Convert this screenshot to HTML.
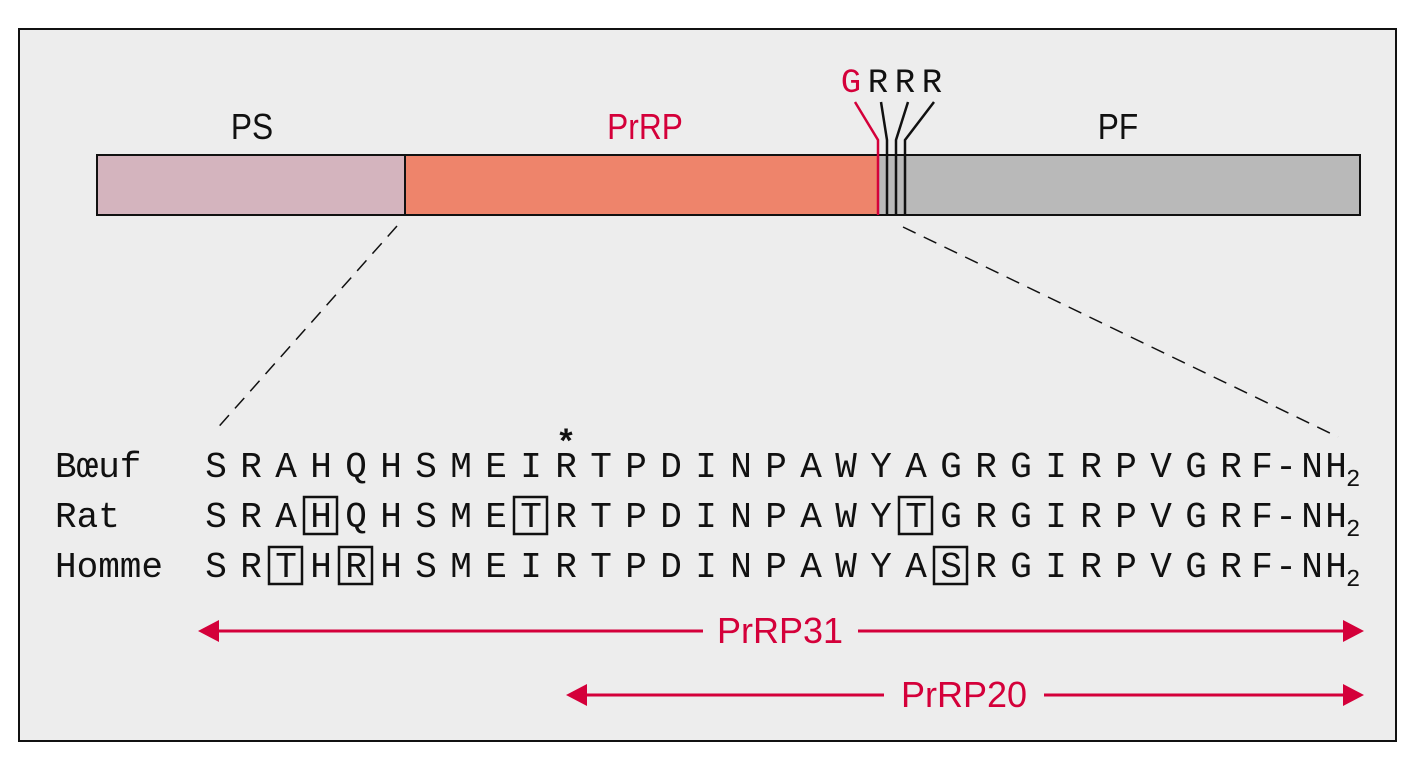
<!DOCTYPE html>
<html><head><meta charset="utf-8"><style>
html,body{margin:0;padding:0;background:#fff;}
svg{display:block;}
.m{font-family:"Liberation Mono",monospace;font-size:36px;fill:#111;}
.s{font-family:"Liberation Sans",sans-serif;font-size:36px;}
</style></head><body>
<svg width="1417" height="776" viewBox="0 0 1417 776" xmlns="http://www.w3.org/2000/svg">
<rect x="0" y="0" width="1417" height="776" fill="#fff"/>
<rect x="19" y="29" width="1377" height="712" fill="#ededed" stroke="#111" stroke-width="2"/>
<rect x="97" y="155" width="308" height="60" fill="#d4b4be" stroke="#111" stroke-width="2"/>
<rect x="405" y="155" width="473" height="60" fill="#ee846b" stroke="#111" stroke-width="2"/>
<rect x="878" y="155" width="482" height="60" fill="#b9b9b9" stroke="#111" stroke-width="2"/>
<text class="s" x="252" y="139" text-anchor="middle" fill="#111" transform="translate(252 0) scale(0.88 1) translate(-252 0)">PS</text>
<text class="s" x="645" y="139" text-anchor="middle" fill="#d4003a" transform="translate(645 0) scale(0.88 1) translate(-645 0)">PrRP</text>
<text class="s" x="1118" y="139" text-anchor="middle" fill="#111" transform="translate(1118 0) scale(0.88 1) translate(-1118 0)">PF</text>
<text x="851" y="92" font-family="Liberation Mono,monospace" font-size="34" text-anchor="middle" fill="#d4003a">G</text>
<text x="878" y="92" font-family="Liberation Mono,monospace" font-size="34" text-anchor="middle" fill="#111">R</text>
<text x="905" y="92" font-family="Liberation Mono,monospace" font-size="34" text-anchor="middle" fill="#111">R</text>
<text x="932" y="92" font-family="Liberation Mono,monospace" font-size="34" text-anchor="middle" fill="#111">R</text>
<g fill="none" stroke-width="2.5">
<polyline points="855,102 878,140 878,215" stroke="#d4003a"/>
<polyline points="881,102 887,140 887,215" stroke="#111"/>
<polyline points="908,102 896,140 896,215" stroke="#111"/>
<polyline points="934,102 905,140 905,215" stroke="#111"/>
</g>
<line x1="397" y1="226" x2="214" y2="432" stroke="#111" stroke-width="1.5" stroke-dasharray="14,9"/>
<line x1="903" y1="227" x2="1338" y2="437" stroke="#111" stroke-width="1.5" stroke-dasharray="14,9"/>
<text class="m" x="55" y="477">Bœuf</text>
<text class="m" x="55" y="527">Rat</text>
<text class="m" x="55" y="577">Homme</text>
<text x="566" y="452" font-family="Liberation Sans,sans-serif" font-size="34" font-weight="bold" text-anchor="middle" fill="#111">*</text>
<g class="m" text-anchor="middle">
<text y="477"><tspan x="216">S</tspan><tspan x="251">R</tspan><tspan x="286">A</tspan><tspan x="321">H</tspan><tspan x="356">Q</tspan><tspan x="391">H</tspan><tspan x="426">S</tspan><tspan x="461">M</tspan><tspan x="496">E</tspan><tspan x="531">I</tspan><tspan x="566">R</tspan><tspan x="601">T</tspan><tspan x="636">P</tspan><tspan x="671">D</tspan><tspan x="706">I</tspan><tspan x="741">N</tspan><tspan x="776">P</tspan><tspan x="811">A</tspan><tspan x="846">W</tspan><tspan x="881">Y</tspan><tspan x="916">A</tspan><tspan x="951">G</tspan><tspan x="986">R</tspan><tspan x="1021">G</tspan><tspan x="1056">I</tspan><tspan x="1091">R</tspan><tspan x="1126">P</tspan><tspan x="1161">V</tspan><tspan x="1196">G</tspan><tspan x="1231">R</tspan><tspan x="1262">F</tspan><tspan x="1286">-</tspan><tspan x="1312">N</tspan><tspan x="1336">H</tspan></text>
<text y="527"><tspan x="216">S</tspan><tspan x="251">R</tspan><tspan x="286">A</tspan><tspan x="321">H</tspan><tspan x="356">Q</tspan><tspan x="391">H</tspan><tspan x="426">S</tspan><tspan x="461">M</tspan><tspan x="496">E</tspan><tspan x="531">T</tspan><tspan x="566">R</tspan><tspan x="601">T</tspan><tspan x="636">P</tspan><tspan x="671">D</tspan><tspan x="706">I</tspan><tspan x="741">N</tspan><tspan x="776">P</tspan><tspan x="811">A</tspan><tspan x="846">W</tspan><tspan x="881">Y</tspan><tspan x="916">T</tspan><tspan x="951">G</tspan><tspan x="986">R</tspan><tspan x="1021">G</tspan><tspan x="1056">I</tspan><tspan x="1091">R</tspan><tspan x="1126">P</tspan><tspan x="1161">V</tspan><tspan x="1196">G</tspan><tspan x="1231">R</tspan><tspan x="1262">F</tspan><tspan x="1286">-</tspan><tspan x="1312">N</tspan><tspan x="1336">H</tspan></text>
<text y="577"><tspan x="216">S</tspan><tspan x="251">R</tspan><tspan x="286">T</tspan><tspan x="321">H</tspan><tspan x="356">R</tspan><tspan x="391">H</tspan><tspan x="426">S</tspan><tspan x="461">M</tspan><tspan x="496">E</tspan><tspan x="531">I</tspan><tspan x="566">R</tspan><tspan x="601">T</tspan><tspan x="636">P</tspan><tspan x="671">D</tspan><tspan x="706">I</tspan><tspan x="741">N</tspan><tspan x="776">P</tspan><tspan x="811">A</tspan><tspan x="846">W</tspan><tspan x="881">Y</tspan><tspan x="916">A</tspan><tspan x="951">S</tspan><tspan x="986">R</tspan><tspan x="1021">G</tspan><tspan x="1056">I</tspan><tspan x="1091">R</tspan><tspan x="1126">P</tspan><tspan x="1161">V</tspan><tspan x="1196">G</tspan><tspan x="1231">R</tspan><tspan x="1262">F</tspan><tspan x="1286">-</tspan><tspan x="1312">N</tspan><tspan x="1336">H</tspan></text>
</g>
<g font-family="Liberation Mono,monospace" font-size="24" fill="#111">
<text x="1346" y="486">2</text><text x="1346" y="536">2</text><text x="1346" y="586">2</text>
</g>
<g fill="none" stroke="#111" stroke-width="2.5">
<rect x="304" y="497" width="33" height="37"/>
<rect x="514" y="497" width="33" height="37"/>
<rect x="899" y="497" width="33" height="37"/>
<rect x="269" y="547" width="33" height="37"/>
<rect x="339" y="547" width="33" height="37"/>
<rect x="934" y="547" width="33" height="37"/>
</g>
<g stroke="#d4003a" stroke-width="3">
<line x1="215" y1="631" x2="703" y2="631"/>
<line x1="858" y1="631" x2="1346" y2="631"/>
<line x1="584" y1="695" x2="884" y2="695"/>
<line x1="1044" y1="695" x2="1346" y2="695"/>
</g>
<g fill="#d4003a">
<polygon points="198,631 219,620 219,642"/>
<polygon points="1364,631 1343,620 1343,642"/>
<polygon points="566,695 587,684 587,706"/>
<polygon points="1364,695 1343,684 1343,706"/>
</g>
<text class="s" x="780" y="643" text-anchor="middle" fill="#d4003a" font-size="33">PrRP31</text>
<text class="s" x="964" y="707" text-anchor="middle" fill="#d4003a" font-size="33">PrRP20</text>
</svg>
</body></html>
